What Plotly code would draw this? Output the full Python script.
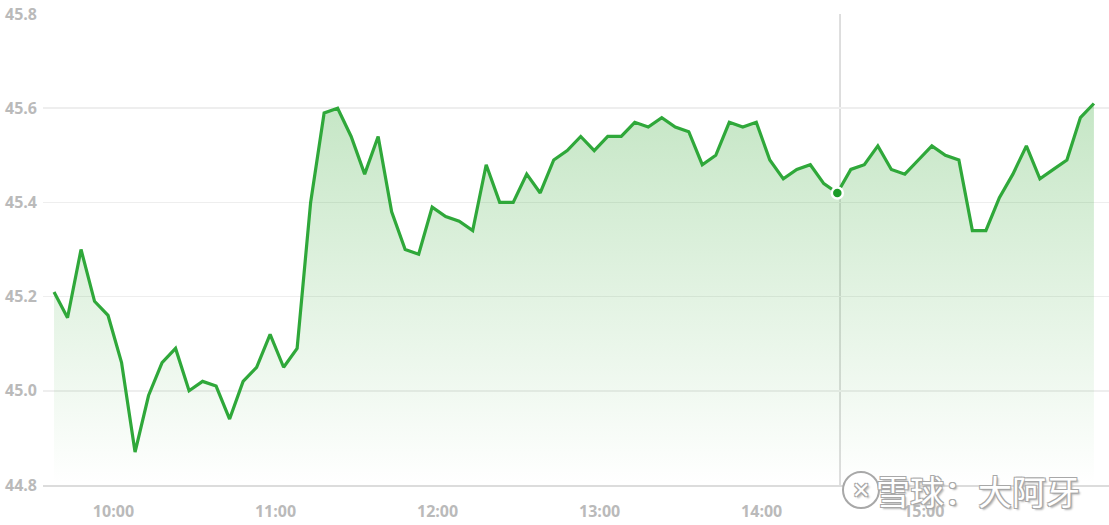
import plotly.graph_objects as go
import pandas as pd

# ---- data ----
prices = [
    45.21, 45.155, 45.30, 45.19, 45.16, 45.06, 44.87, 44.99, 45.06, 45.09,
    45.00, 45.02, 45.01, 44.94, 45.02, 45.05, 45.12, 45.05, 45.09, 45.40,
    45.59, 45.60, 45.54, 45.46, 45.54, 45.38, 45.30, 45.29, 45.39, 45.37,
    45.36, 45.34, 45.48, 45.40, 45.40, 45.46, 45.42, 45.49, 45.51, 45.54,
    45.51, 45.54, 45.54, 45.57, 45.56, 45.58, 45.56, 45.55, 45.48, 45.50,
    45.57, 45.56, 45.57, 45.49, 45.45, 45.47, 45.48, 45.44, 45.42, 45.47,
    45.48, 45.52, 45.47, 45.46, 45.49, 45.52, 45.50, 45.49, 45.34, 45.34,
    45.41, 45.46, 45.52, 45.45, 45.47, 45.49, 45.58, 45.61,
]
start_time = "2024-01-02 09:38"
times = pd.date_range(start_time, periods=len(prices), freq="5min")
hour_labels = ["10:00", "11:00", "12:00", "13:00", "14:00", "15:00"]
y_ticks = [44.8, 45.0, 45.2, 45.4, 45.6, 45.8]
highlight_index = 58
watermark = "雪球：大阿牙"

# ---- styling ----
line_color = "#2fa83a"
dot_color = "#1c9c28"
label_color = "#bababa"
grid_color = "#eeeeee"
W, H = 1109, 525
ML, MR, MT, MB = 43, 0, 14, 40

day = "2024-01-02 "
hour_vals = [pd.Timestamp(day + h) for h in hour_labels]

fig = go.Figure()
fig.add_trace(go.Scatter(
    x=times, y=prices, mode="lines",
    line=dict(color=line_color, width=3.2),
    fill="tozeroy",
    fillgradient=dict(
        type="vertical",
        start=44.80, stop=45.62,
        colorscale=[[0, "rgba(46,165,46,0.0)"], [1, "rgba(46,165,46,0.28)"]],
    ),
    hoverinfo="skip", showlegend=False,
))
fig.add_trace(go.Scatter(
    x=[times[highlight_index]], y=[prices[highlight_index]], mode="markers",
    marker=dict(color=dot_color, size=11, line=dict(color="white", width=2.5)),
    hoverinfo="skip", showlegend=False,
))

fig.add_shape(type="line", xref="x", yref="y",
              x0=times[highlight_index] + pd.Timedelta(minutes=1),
              x1=times[highlight_index] + pd.Timedelta(minutes=1),
              y0=44.8, y1=45.8, line=dict(color="#c8c8c8", width=1.2), layer="below")

x_range = [times[0] - pd.Timedelta(seconds=245), times[-1] + pd.Timedelta(seconds=335)]

tick_font = dict(family="'Open Sans', 'Noto Sans', sans-serif", size=16, color=label_color, weight="bold")
fig.update_layout(
    width=W, height=H,
    margin=dict(l=ML, r=MR, t=MT, b=MB),
    plot_bgcolor="white", paper_bgcolor="white",
    font=dict(family="'Open Sans', sans-serif", color=label_color),
    xaxis=dict(
        range=x_range, tickvals=hour_vals, ticktext=hour_labels,
        showgrid=False, zeroline=False,
        showline=True, linecolor="#dcdcdc", linewidth=1.5,
        tickfont=tick_font, ticks="", ticklabelstandoff=11,
    ),
    yaxis=dict(
        range=[44.8, 45.8], tickvals=y_ticks, ticktext=[f"{v:.1f}" for v in y_ticks],
        showgrid=True, gridcolor=grid_color, gridwidth=1.5, zeroline=False,
        showline=False, tickfont=tick_font, ticks="", ticklabelstandoff=5,
    ),
)

# watermark
pw, ph = W - ML - MR, H - MT - MB
def px_x(x):
    return (x - ML) / pw
def px_y(y):
    return (H - MB - y) / ph

shadow = "-1px -1px 0 #a8a8a8, 1px -1px 0 #a8a8a8, -1px 1px 0 #a8a8a8, 1px 1px 0 #a8a8a8, 2px 2px 2px #b0b0b0"
fig.add_annotation(
    xref="paper", yref="paper", x=px_x(978), y=px_y(490),
    text=watermark, showarrow=False, xanchor="center", yanchor="middle",
    font=dict(family="Noto Sans CJK SC", size=34, color="white", shadow=shadow),
)
fig.add_shape(type="circle", xref="paper", yref="paper",
              x0=px_x(843), x1=px_x(879), y0=px_y(508), y1=px_y(472),
              line=dict(color="#a8a8a8", width=2), fillcolor="white", layer="above")
fig.add_annotation(
    xref="paper", yref="paper", x=px_x(861), y=px_y(490),
    text="✕", showarrow=False, xanchor="center", yanchor="middle",
    font=dict(family="DejaVu Sans", size=22, color="white", shadow=shadow),
)

fig.write_html("out.html", config={"displayModeBar": False, "staticPlot": True},
               post_script="document.body.style.margin='0';document.body.style.overflow='hidden';")
